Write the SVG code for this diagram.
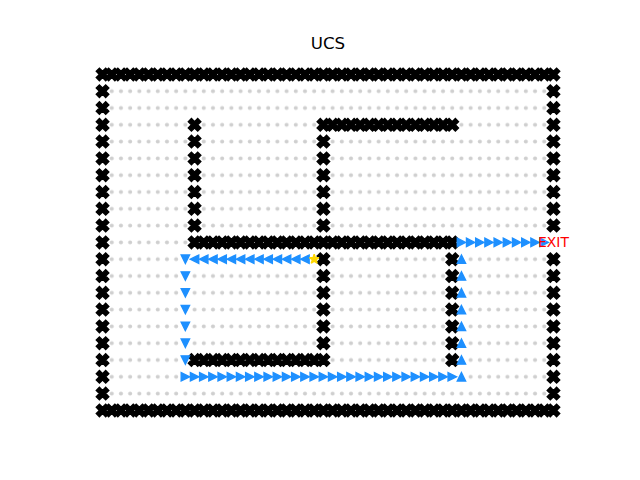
<svg xmlns="http://www.w3.org/2000/svg" xmlns:xlink="http://www.w3.org/1999/xlink" width="640" height="480" viewBox="0 0 640 480">
<style>
.wall{fill:#000;stroke:#000;stroke-width:1.39;stroke-linejoin:miter}
.step{fill:#1e90ff;stroke:#1e90ff;stroke-width:1.39;stroke-linejoin:miter}
.title{font-family:"DejaVu Sans","Liberation Sans",sans-serif;font-size:16.67px;fill:#000}
.exit{font-family:"DejaVu Sans","Liberation Sans",sans-serif;font-size:13.9px;fill:#ff0000}
</style>
<defs>
<path id="x" class="wall" d="M-3.125,-6.25 L0,-3.125 L3.125,-6.25 L6.25,-3.125 L3.125,0 L6.25,3.125 L3.125,6.25 L0,3.125 L-3.125,6.25 L-6.25,3.125 L-3.125,0 L-6.25,-3.125 Z"/>
<path id="tr" class="step" d="M4.165,0 L-4.165,4.165 L-4.165,-4.165 Z"/>
<path id="tl" class="step" d="M-4.165,0 L4.165,-4.165 L4.165,4.165 Z"/>
<path id="td" class="step" d="M0,4.165 L-4.165,-4.165 L4.165,-4.165 Z"/>
<path id="tu" class="step" d="M0,-4.165 L-4.165,4.165 L4.165,4.165 Z"/>
<pattern id="dots" patternUnits="userSpaceOnUse" x="97.95" y="66" width="9.2022" height="16.8">
<circle cx="4.6011" cy="8.4" r="2" fill="#cfcfcf"/>
</pattern>
<g id="row50">
<use href="#x" x="102.55"/><use href="#x" x="111.75"/><use href="#x" x="120.95"/><use href="#x" x="130.16"/><use href="#x" x="139.36"/><use href="#x" x="148.56"/><use href="#x" x="157.76"/><use href="#x" x="166.97"/><use href="#x" x="176.17"/><use href="#x" x="185.37"/><use href="#x" x="194.57"/><use href="#x" x="203.77"/><use href="#x" x="212.98"/><use href="#x" x="222.18"/><use href="#x" x="231.38"/><use href="#x" x="240.58"/><use href="#x" x="249.79"/><use href="#x" x="258.99"/><use href="#x" x="268.19"/><use href="#x" x="277.39"/><use href="#x" x="286.59"/><use href="#x" x="295.80"/><use href="#x" x="305.00"/><use href="#x" x="314.20"/><use href="#x" x="323.40"/><use href="#x" x="332.61"/><use href="#x" x="341.81"/><use href="#x" x="351.01"/><use href="#x" x="360.21"/><use href="#x" x="369.41"/><use href="#x" x="378.62"/><use href="#x" x="387.82"/><use href="#x" x="397.02"/><use href="#x" x="406.22"/><use href="#x" x="415.43"/><use href="#x" x="424.63"/><use href="#x" x="433.83"/><use href="#x" x="443.03"/><use href="#x" x="452.23"/><use href="#x" x="461.44"/><use href="#x" x="470.64"/><use href="#x" x="479.84"/><use href="#x" x="489.04"/><use href="#x" x="498.25"/><use href="#x" x="507.45"/><use href="#x" x="516.65"/><use href="#x" x="525.85"/><use href="#x" x="535.05"/><use href="#x" x="544.26"/><use href="#x" x="553.46"/>
</g>
</defs>
<rect width="640" height="480" fill="#fff"/>
<text class="title" x="328" y="49.3" text-anchor="middle">UCS</text>

<rect id="free-cells" x="107.15" y="82.8" width="441.71" height="319.2" fill="url(#dots)"/>

<g id="walls">
<use href="#row50" y="74.4"/>
<use href="#row50" y="410.4"/>
<g transform="translate(102.55,0)">
<use href="#x" y="91.2"/><use href="#x" y="108"/><use href="#x" y="124.8"/><use href="#x" y="141.6"/><use href="#x" y="158.4"/><use href="#x" y="175.2"/><use href="#x" y="192"/><use href="#x" y="208.8"/><use href="#x" y="225.6"/><use href="#x" y="242.4"/><use href="#x" y="259.2"/><use href="#x" y="276"/><use href="#x" y="292.8"/><use href="#x" y="309.6"/><use href="#x" y="326.4"/><use href="#x" y="343.2"/><use href="#x" y="360"/><use href="#x" y="376.8"/><use href="#x" y="393.6"/>
</g>
<g transform="translate(553.46,0)">
<use href="#x" y="91.2"/><use href="#x" y="108"/><use href="#x" y="124.8"/><use href="#x" y="141.6"/><use href="#x" y="158.4"/><use href="#x" y="175.2"/><use href="#x" y="192"/><use href="#x" y="208.8"/><use href="#x" y="225.6"/><use href="#x" y="259.2"/><use href="#x" y="276"/><use href="#x" y="292.8"/><use href="#x" y="309.6"/><use href="#x" y="326.4"/><use href="#x" y="343.2"/><use href="#x" y="360"/><use href="#x" y="376.8"/><use href="#x" y="393.6"/>
</g>
<g transform="translate(194.57,0)">
<use href="#x" y="124.8"/><use href="#x" y="141.6"/><use href="#x" y="158.4"/><use href="#x" y="175.2"/><use href="#x" y="192"/><use href="#x" y="208.8"/><use href="#x" y="225.6"/>
</g>
<g transform="translate(323.40,0)">
<use href="#x" y="141.6"/><use href="#x" y="158.4"/><use href="#x" y="175.2"/><use href="#x" y="192"/><use href="#x" y="208.8"/><use href="#x" y="225.6"/>
<use href="#x" y="259.2"/><use href="#x" y="276"/><use href="#x" y="292.8"/><use href="#x" y="309.6"/><use href="#x" y="326.4"/><use href="#x" y="343.2"/>
</g>
<g transform="translate(452.23,0)">
<use href="#x" y="259.2"/><use href="#x" y="276"/><use href="#x" y="292.8"/><use href="#x" y="309.6"/><use href="#x" y="326.4"/><use href="#x" y="343.2"/><use href="#x" y="360"/>
</g>
<g transform="translate(0,124.8)">
<use href="#x" x="323.40"/><use href="#x" x="332.61"/><use href="#x" x="341.81"/><use href="#x" x="351.01"/><use href="#x" x="360.21"/><use href="#x" x="369.41"/><use href="#x" x="378.62"/><use href="#x" x="387.82"/><use href="#x" x="397.02"/><use href="#x" x="406.22"/><use href="#x" x="415.43"/><use href="#x" x="424.63"/><use href="#x" x="433.83"/><use href="#x" x="443.03"/><use href="#x" x="452.23"/>
</g>
<g transform="translate(0,242.4)">
<use href="#x" x="194.57"/><use href="#x" x="203.77"/><use href="#x" x="212.98"/><use href="#x" x="222.18"/><use href="#x" x="231.38"/><use href="#x" x="240.58"/><use href="#x" x="249.79"/><use href="#x" x="258.99"/><use href="#x" x="268.19"/><use href="#x" x="277.39"/><use href="#x" x="286.59"/><use href="#x" x="295.80"/><use href="#x" x="305.00"/><use href="#x" x="314.20"/><use href="#x" x="323.40"/><use href="#x" x="332.61"/><use href="#x" x="341.81"/><use href="#x" x="351.01"/><use href="#x" x="360.21"/><use href="#x" x="369.41"/><use href="#x" x="378.62"/><use href="#x" x="387.82"/><use href="#x" x="397.02"/><use href="#x" x="406.22"/><use href="#x" x="415.43"/><use href="#x" x="424.63"/><use href="#x" x="433.83"/><use href="#x" x="443.03"/><use href="#x" x="452.23"/>
</g>
<g transform="translate(0,360)">
<use href="#x" x="194.57"/><use href="#x" x="203.77"/><use href="#x" x="212.98"/><use href="#x" x="222.18"/><use href="#x" x="231.38"/><use href="#x" x="240.58"/><use href="#x" x="249.79"/><use href="#x" x="258.99"/><use href="#x" x="268.19"/><use href="#x" x="277.39"/><use href="#x" x="286.59"/><use href="#x" x="295.80"/><use href="#x" x="305.00"/><use href="#x" x="314.20"/><use href="#x" x="323.40"/>
</g>
</g>

<g id="path">
<g transform="translate(0,259.2)">
<use href="#td" x="185.37"/><use href="#tl" x="194.57"/><use href="#tl" x="203.77"/><use href="#tl" x="212.98"/><use href="#tl" x="222.18"/><use href="#tl" x="231.38"/><use href="#tl" x="240.58"/><use href="#tl" x="249.79"/><use href="#tl" x="258.99"/><use href="#tl" x="268.19"/><use href="#tl" x="277.39"/><use href="#tl" x="286.59"/><use href="#tl" x="295.80"/><use href="#tl" x="305.00"/>
</g>
<g transform="translate(185.37,0)">
<use href="#td" y="276"/><use href="#td" y="292.8"/><use href="#td" y="309.6"/><use href="#td" y="326.4"/><use href="#td" y="343.2"/><use href="#td" y="360"/>
</g>
<g transform="translate(0,376.8)">
<use href="#tr" x="185.37"/><use href="#tr" x="194.57"/><use href="#tr" x="203.77"/><use href="#tr" x="212.98"/><use href="#tr" x="222.18"/><use href="#tr" x="231.38"/><use href="#tr" x="240.58"/><use href="#tr" x="249.79"/><use href="#tr" x="258.99"/><use href="#tr" x="268.19"/><use href="#tr" x="277.39"/><use href="#tr" x="286.59"/><use href="#tr" x="295.80"/><use href="#tr" x="305.00"/><use href="#tr" x="314.20"/><use href="#tr" x="323.40"/><use href="#tr" x="332.61"/><use href="#tr" x="341.81"/><use href="#tr" x="351.01"/><use href="#tr" x="360.21"/><use href="#tr" x="369.41"/><use href="#tr" x="378.62"/><use href="#tr" x="387.82"/><use href="#tr" x="397.02"/><use href="#tr" x="406.22"/><use href="#tr" x="415.43"/><use href="#tr" x="424.63"/><use href="#tr" x="433.83"/><use href="#tr" x="443.03"/><use href="#tr" x="452.23"/><use href="#tu" x="461.44"/>
</g>
<g transform="translate(461.44,0)">
<use href="#tu" y="259.2"/><use href="#tu" y="276"/><use href="#tu" y="292.8"/><use href="#tu" y="309.6"/><use href="#tu" y="326.4"/><use href="#tu" y="343.2"/><use href="#tu" y="360"/>
</g>
<g transform="translate(0,242.4)">
<use href="#tr" x="461.44"/><use href="#tr" x="470.64"/><use href="#tr" x="479.84"/><use href="#tr" x="489.04"/><use href="#tr" x="498.25"/><use href="#tr" x="507.45"/><use href="#tr" x="516.65"/><use href="#tr" x="525.85"/><use href="#tr" x="535.05"/><use href="#tr" x="544.26"/>
</g>
</g>

<g id="start">
<path transform="translate(314.20,259.2)" fill="#ffd700" stroke="#ffd700" stroke-width="1.39" stroke-linejoin="bevel" d="M0,-5 L1.123,-1.545 L4.755,-1.545 L1.816,0.59 L2.939,4.045 L0,1.91 L-2.939,4.045 L-1.816,0.59 L-4.755,-1.545 L-1.123,-1.545 Z"/>
</g>
<g id="exit">
<text class="exit" x="553.46" y="247.3" text-anchor="middle">EXIT</text>
</g>
</svg>
